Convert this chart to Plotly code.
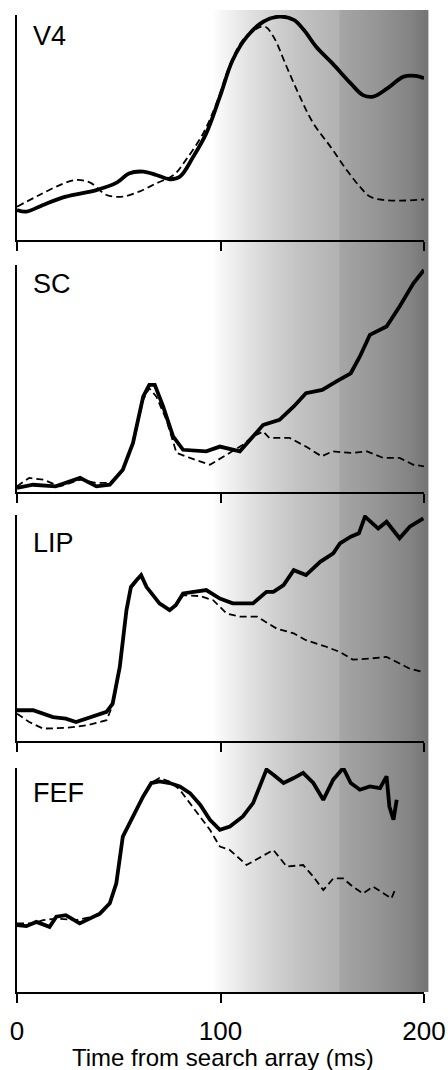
import numpy as np
import plotly.graph_objects as go

# ---------------- data (time in ms, response in % of panel height) ----------------
PANEL_NAMES = ["V4", "SC", "LIP", "FEF"]
X_TICKS = [0, 100, 200]
X_TITLE = "Time from search array (ms)"

V4_T_SOLID = [0, 4.6, 12.8, 24, 39, 49, 55, 62, 68.5, 75, 80, 86.6, 93, 99.7, 106, 113, 121, 129,
              136, 141, 147, 155, 164, 170, 175, 182, 190, 196, 200]
V4_SOLID = [13.3, 12.6, 15.6, 19.3, 22.2, 25.5, 29.6, 30.4, 28.9, 27, 28.1, 37, 47.4, 63.7, 80, 90.4,
            97, 99.3, 97.8, 93.3, 85.9, 78.5, 69.6, 64.4, 63.7, 67.4, 72.6, 72.9, 71.9]
V4_T_DASH = [0, 11, 21, 29, 36, 44, 52, 60, 68.5, 77, 83, 91.5, 98, 104.6, 111, 118, 122, 126, 132.5,
             139, 145.6, 154, 162, 168.5, 173.4, 180, 188, 200]
V4_DASH = [14.8, 20, 24.4, 26.7, 25.5, 20, 19.3, 21.5, 25.2, 28.9, 35.6, 47.4, 60.7, 77.8, 88.9, 94,
           94.8, 90.4, 77, 63.7, 51.9, 41.5, 31.1, 23.7, 19.3, 17.8, 17.5, 18]

SC_T_SOLID = [0, 7.9, 19, 31, 39, 45.6, 52, 57, 62, 65, 67.7, 71.8, 76.7, 81.6, 93, 99.7, 109.5, 116,
              121, 129, 136, 142, 150, 157, 164, 168.5, 173.4, 181.6, 188, 194.8, 200]
SC_SOLID = [1.8, 3.2, 2.5, 6.2, 2.5, 3.2, 9.8, 21.6, 42, 47.2, 47.2, 37.7, 24.5, 18.6, 17.9, 20, 17.9,
            24.5, 29.6, 31.8, 37.7, 43.5, 45, 48.7, 52.3, 59.7, 69.2, 72.9, 81.7, 91.9, 97.8]
SC_T_DASH = [0, 6, 13, 21, 31, 39, 45.6, 52, 57, 62, 65, 68.5, 73.4, 78.4, 85, 94.8, 103, 111, 116,
             121, 124, 134, 142, 149.7, 155, 164, 172, 180, 188, 194.8, 200]
SC_DASH = [2.5, 6.2, 5.4, 2.5, 5.4, 4, 4, 9.8, 21.6, 40.6, 45.7, 42, 31.8, 17.2, 15, 12, 16.4, 20.8,
           24.5, 26.7, 23.8, 23.8, 20, 15.7, 17.9, 17.2, 17.9, 15, 15, 12, 11.3]

LIP_T_SOLID = [0, 7.9, 17.7, 24, 29, 36, 40.7, 44, 47, 50.5, 53.8, 56, 58.7, 61, 63.6, 70, 75, 78,
               81.6, 86.6, 93, 99.7, 106, 116, 122.6, 126, 131, 136, 142, 149, 155.4, 158.7, 164,
               168, 171, 177.5, 181.6, 188, 193, 199.7]
LIP_SOLID = [13.6, 13.6, 10.6, 9.9, 8.4, 10.6, 12.1, 12.9, 16.5, 32.8, 57.9, 68.2, 71.1, 73.4, 68.2,
             60.9, 57.9, 60.1, 65.3, 66, 66.8, 63, 60.9, 60.9, 66, 66, 69, 75.6, 73.4, 79.3, 83,
             87.4, 90.4, 91.9, 99.3, 94, 97, 89.7, 94.8, 98.5]
LIP_T_DASH = [0, 6, 12.8, 24, 34, 44, 47, 50.5, 53.8, 56, 58.7, 61, 63.6, 70, 75, 78, 81.6, 90, 96.4,
              103, 109.5, 118, 127.5, 136, 142, 152, 158.7, 165, 173.4, 181.6, 188, 193, 199]
LIP_DASH = [12.1, 8.4, 5.5, 5.8, 6.9, 9.2, 15.8, 32.8, 57.9, 67.5, 70.5, 73, 68, 60.6, 57.9, 59.7,
            64.5, 64.1, 62.3, 56.4, 55, 55, 49.8, 47.6, 44.6, 41.7, 39.4, 36, 36.5, 37.2, 34.3, 32,
            30.6]

FEF_T_SOLID = [0, 4.6, 9.5, 16, 19.3, 24, 30.8, 35.7, 40.7, 45.6, 48.8, 52, 57, 62, 66, 70, 75, 80,
               85, 90, 94.8, 99.7, 104.6, 111, 116, 122.6, 126, 131, 136, 140.6, 145.6, 150.5,
               155.4, 160.3, 164, 168.5, 173.4, 178.4, 181.6, 183, 185, 186.6]
FEF_SOLID = [29.9, 29.4, 31.3, 29.1, 33.6, 34.3, 30.6, 32.8, 35, 39.6, 48.5, 69.4, 78.4, 87.3, 93.3,
             94, 93.3, 91.8, 88.8, 83.6, 76.9, 72.4, 73.9, 78.4, 84.3, 99.3, 97, 93.3, 95.5, 97.8,
             93.3, 85.8, 94.8, 100, 93.3, 90.3, 91.8, 91, 96.3, 82.8, 76.9, 85.8]
FEF_T_DASH = [0, 7.9, 12.8, 19.3, 29, 40.7, 45.6, 48.8, 52, 57, 62, 66, 70, 75, 80, 85, 90, 94.8,
              99.7, 104.6, 112.8, 119, 126, 132.5, 140.6, 145.6, 150.5, 155.4, 160.3, 165, 170,
              175, 180, 184, 185.7]
FEF_DASH = [30.6, 30.6, 32.1, 32.8, 32.1, 34.3, 39.6, 48.5, 68.7, 78.4, 87.3, 93.3, 95.5, 94, 90.3,
            84.3, 78.4, 72.4, 64.9, 63.4, 56.7, 59.7, 63.4, 56, 56.7, 51.5, 45.5, 50.7, 50.7, 47,
            44, 47, 44, 41.8, 45.5]

SERIES = [
    (V4_T_SOLID, V4_SOLID, V4_T_DASH, V4_DASH),
    (SC_T_SOLID, SC_SOLID, SC_T_DASH, SC_DASH),
    (LIP_T_SOLID, LIP_SOLID, LIP_T_DASH, LIP_DASH),
    (FEF_T_SOLID, FEF_SOLID, FEF_T_DASH, FEF_DASH),
]

# ---------------- layout geometry (pixels) ----------------
W, H = 448, 1070
X_LEFT, X_RIGHT = 17, 424
PANEL_TOP = [15, 265, 515, 768]
PANEL_BOT = [240, 492, 741, 992]
LABEL_TOP = [19, 267, 526, 776]
FONT = "Arial, Liberation Sans, sans-serif"


def py(p):
    return 1 - p / H


def px(p):
    return p / W


fig = go.Figure()

for i, (ts, vs, td, vd) in enumerate(SERIES):
    k = "" if i == 0 else str(i + 1)
    shape = "spline" if i == 0 else "linear"
    fig.add_trace(go.Scatter(x=td, y=vd, xaxis="x" + k, yaxis="y" + k, mode="lines",
                             line=dict(color="black", width=1.8, dash="7px,4px", shape=shape),
                             showlegend=False, hoverinfo="skip"))
    fig.add_trace(go.Scatter(x=ts, y=vs, xaxis="x" + k, yaxis="y" + k, mode="lines",
                             line=dict(color="black", width=3.8, shape=shape),
                             showlegend=False, hoverinfo="skip"))
    fig.layout["xaxis" + k] = dict(
        domain=[px(X_LEFT), px(X_RIGHT)], range=[0, 200], anchor="y" + k,
        showline=True, linecolor="black", linewidth=2, mirror=False,
        ticks="outside", ticklen=9, tickwidth=2, tickcolor="black",
        tickvals=X_TICKS, ticktext=[str(v) for v in X_TICKS],
        showticklabels=(i == 3), showgrid=False, zeroline=False,
        tickfont=dict(size=26, family=FONT, color="black"), automargin=False,
        ticklabelstandoff=6,
    )
    fig.layout["yaxis" + k] = dict(
        domain=[py(PANEL_BOT[i]), py(PANEL_TOP[i])], range=[0, 100], anchor="x" + k,
        showline=True, linecolor="black", linewidth=2, showticklabels=False, ticks="",
        showgrid=False, zeroline=False, automargin=False,
    )
    fig.add_annotation(text=PANEL_NAMES[i], xref="paper", yref="paper", x=px(31),
                       y=py(LABEL_TOP[i]), xanchor="left", yanchor="top", showarrow=False,
                       font=dict(size=27, family=FONT, color="black"))

# background gradient (white -> grey from ~100 ms to 200 ms)
stops_px = [200, 212, 230, 250, 280, 300, 339, 340, 380, 410, 428]
stops_g = [255, 255, 240, 225, 205, 194, 178, 166, 148, 132, 116]
shapes = []
for p in range(205, 428):
    g = int(round(np.interp(p + 0.5, stops_px, stops_g)))
    shapes.append(dict(type="rect", xref="paper", yref="paper", x0=px(p), x1=px(p + 1.4),
                       y0=py(992), y1=py(10), line=dict(width=0),
                       fillcolor=f"rgb({g},{g},{g})", layer="below"))
fig.update_layout(shapes=shapes)

fig.add_annotation(text=X_TITLE, xref="paper", yref="paper", x=px(223), y=py(1057),
                   xanchor="center", yanchor="middle", showarrow=False,
                   font=dict(size=24, family=FONT, color="black"))

fig.update_layout(width=W, height=H, margin=dict(l=0, r=0, t=0, b=0),
                  paper_bgcolor="white", plot_bgcolor="rgba(0,0,0,0)",
                  font=dict(family=FONT, color="black"))

fig.write_html("out.html", config={"displayModeBar": False},
               post_script="document.body.style.margin='0px';")
